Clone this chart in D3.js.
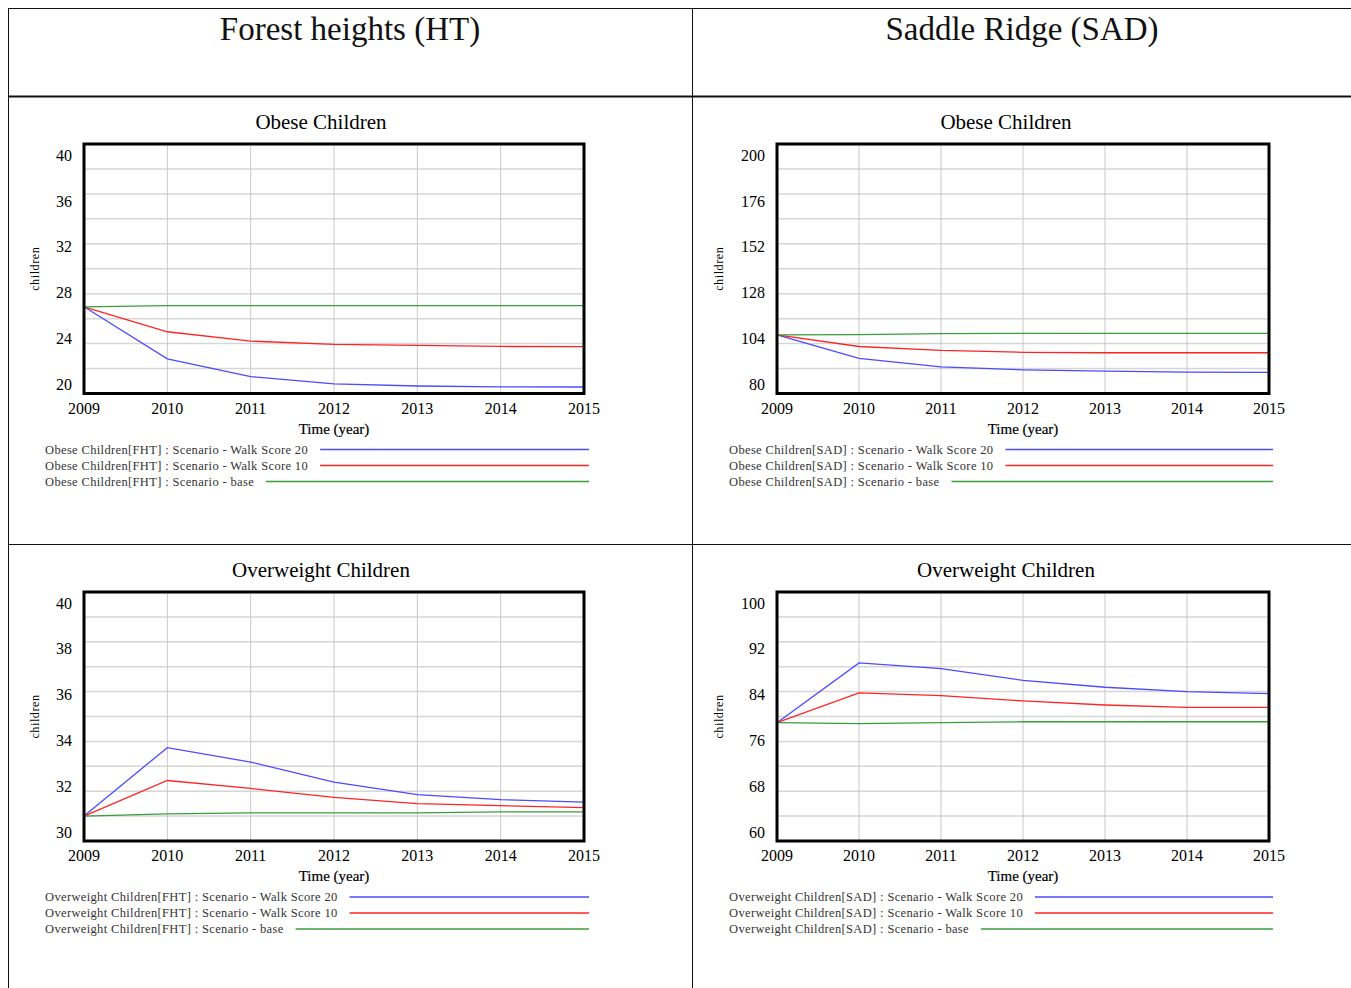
<!DOCTYPE html>
<html>
<head>
<meta charset="utf-8">
<script src="https://cdn.jsdelivr.net/npm/d3@7"></script>
<style>
  body { margin: 0; background: #fff; }
  svg { display: block; }
  svg text { font-family: "Liberation Serif", "Times New Roman", serif; }
</style>
</head>
<body>
<div id="chart"></div>
<script>
const W = 1351, H = 988

const years = [2009, 2010, 2011, 2012, 2013, 2014, 2015]
const columnTitles = ['Forest heights (HT)', 'Saddle Ridge (SAD)']
const scenarioNames = ['Scenario - Walk Score 20', 'Scenario - Walk Score 10', 'Scenario - base']
const scenarioColors = ['#4b4bff', '#ff2424', '#3a9e3a']

// obese children, Forest heights
const obeseFHT_ws20 = [26.95, 22.78, 21.36, 20.77, 20.6, 20.53, 20.52]
const obeseFHT_ws10 = [26.95, 24.95, 24.2, 23.93, 23.85, 23.77, 23.75]
const obeseFHT_base = [26.95, 27.05, 27.05, 27.05, 27.05, 27.05, 27.05]
// obese children, Saddle Ridge
const obeseSAD_ws20 = [108.2, 96.9, 92.8, 91.4, 90.75, 90.3, 90.2]
const obeseSAD_ws10 = [108.2, 102.6, 100.7, 99.8, 99.6, 99.6, 99.6]
const obeseSAD_base = [108.2, 108.3, 108.8, 108.9, 108.9, 108.9, 108.9]
// overweight children, Forest heights
const overFHT_ws20 = [31.0, 33.75, 33.17, 32.36, 31.86, 31.66, 31.56]
const overFHT_ws10 = [31.0, 32.43, 32.11, 31.75, 31.5, 31.42, 31.34]
const overFHT_base = [31.0, 31.09, 31.13, 31.13, 31.13, 31.17, 31.17]
// overweight children, Saddle Ridge
const overSAD_ws20 = [79.0, 88.6, 87.7, 85.8, 84.7, 84.0, 83.67]
const overSAD_ws10 = [79.0, 83.78, 83.35, 82.5, 81.85, 81.47, 81.47]
const overSAD_base = [79.0, 78.84, 79.0, 79.16, 79.16, 79.16, 79.16]

const obeseFHT_ticks = [40, 36, 32, 28, 24, 20]
const obeseSAD_ticks = [200, 176, 152, 128, 104, 80]
const overFHT_ticks = [40, 38, 36, 34, 32, 30]
const overSAD_ticks = [100, 92, 84, 76, 68, 60]

const panels = [
  { title: 'Obese Children', var: 'Obese Children', region: 'FHT', col: 0, row: 0,
    ticks: obeseFHT_ticks, series: [obeseFHT_ws20, obeseFHT_ws10, obeseFHT_base] },
  { title: 'Obese Children', var: 'Obese Children', region: 'SAD', col: 1, row: 0,
    ticks: obeseSAD_ticks, series: [obeseSAD_ws20, obeseSAD_ws10, obeseSAD_base] },
  { title: 'Overweight Children', var: 'Overweight Children', region: 'FHT', col: 0, row: 1,
    ticks: overFHT_ticks, series: [overFHT_ws20, overFHT_ws10, overFHT_base] },
  { title: 'Overweight Children', var: 'Overweight Children', region: 'SAD', col: 1, row: 1,
    ticks: overSAD_ticks, series: [overSAD_ws20, overSAD_ws10, overSAD_base] }
]

// frame positions
const COLS = [{ left: 84, right: 584, legendX: 45, legendEnd: 589, titleShift: -13, unitX: 35 },
              { left: 777, right: 1269, legendX: 729, legendEnd: 1273, titleShift: -17, unitX: 719 }]
const ROWS = [{ top: 144, bottom: 393.5 }, { top: 592, bottom: 841 }]

const svg = d3.select('#chart').append('svg')
  .attr('width', W).attr('height', H)

// table grid
const grid = svg.append('g').attr('stroke', '#111')
grid.append('line').attr('x1', 8).attr('x2', W).attr('y1', 8.5).attr('y2', 8.5).attr('stroke-width', 1)
grid.append('line').attr('x1', 8.5).attr('x2', 8.5).attr('y1', 8).attr('y2', H).attr('stroke-width', 1)
grid.append('line').attr('x1', 692.5).attr('x2', 692.5).attr('y1', 8).attr('y2', H).attr('stroke-width', 1)
grid.append('line').attr('x1', 8).attr('x2', W).attr('y1', 96.5).attr('y2', 96.5).attr('stroke-width', 2)
grid.append('line').attr('x1', 8).attr('x2', W).attr('y1', 544.5).attr('y2', 544.5).attr('stroke-width', 1)

svg.selectAll('.coltitle')
  .data(columnTitles)
  .enter().append('text')
    .attr('x', (d, i) => i === 0 ? 350 : 1022)
    .attr('y', 40)
    .attr('text-anchor', 'middle')
    .attr('font-size', 33)
    .attr('fill', '#111')
    .text(d => d)

panels.forEach(p => {
  const c = COLS[p.col], r = ROWS[p.row]
  const g = svg.append('g')
  const yMin = d3.min(p.ticks), yMax = d3.max(p.ticks)

  const x = d3.scaleLinear().domain([2009, 2015]).range([c.left, c.right])
  const y = d3.scaleLinear().domain([yMin, yMax]).range([r.bottom, r.top])
  // vensim spreads its labels a little inside the frame
  const yLab = d3.scaleLinear().domain([yMin, yMax]).range([r.bottom - 9, r.top + 11])

  // grid lines
  const hGrid = d3.range(1, 10).map(i => yMin + (yMax - yMin) * i / 10)
  g.append('g').selectAll('line')
    .data(hGrid)
    .enter().append('line')
      .attr('x1', c.left).attr('x2', c.right)
      .attr('y1', d => y(d)).attr('y2', d => y(d))
      .attr('stroke', '#d6d6d6').attr('stroke-width', 1.5)
  g.append('g').selectAll('line')
    .data(years.slice(1, -1))
    .enter().append('line')
      .attr('x1', d => x(d)).attr('x2', d => x(d))
      .attr('y1', r.top).attr('y2', r.bottom)
      .attr('stroke', '#c8c8c8').attr('stroke-width', 1)

  // series
  const line = d3.line()
    .x((d, i) => x(years[i]))
    .y(d => y(d))
  g.selectAll('.series')
    .data(p.series)
    .enter().append('path')
      .attr('d', line)
      .attr('fill', 'none')
      .attr('stroke', (d, i) => scenarioColors[i])
      .attr('stroke-width', 1.3)

  // frame
  g.append('rect')
    .attr('x', c.left).attr('y', r.top)
    .attr('width', c.right - c.left).attr('height', r.bottom - r.top)
    .attr('fill', 'none').attr('stroke', '#000').attr('stroke-width', 3)

  // y labels
  g.selectAll('.ylab')
    .data(p.ticks)
    .enter().append('text')
      .attr('x', c.left - 12)
      .attr('y', d => yLab(d))
      .attr('dy', '0.35em')
      .attr('text-anchor', 'end')
      .attr('font-size', 16)
      .attr('fill', '#000')
      .text(d => d)

  // x labels
  g.selectAll('.xlab')
    .data(years)
    .enter().append('text')
      .attr('x', d => x(d))
      .attr('y', r.bottom + 20)
      .attr('text-anchor', 'middle')
      .attr('font-size', 16)
      .attr('fill', '#000')
      .text(d => d)

  g.append('text')
    .attr('x', (c.left + c.right) / 2)
    .attr('y', r.bottom + 40)
    .attr('text-anchor', 'middle')
    .attr('font-size', 15)
    .attr('fill', '#000')
    .attr('stroke', '#000').attr('stroke-width', 0.2)
    .text('Time (year)')

  g.append('text')
    .attr('x', (c.left + c.right) / 2 + c.titleShift)
    .attr('y', r.top - 15)
    .attr('text-anchor', 'middle')
    .attr('font-size', 21)
    .attr('fill', '#000')
    .text(p.title)

  g.append('text')
    .attr('transform', `translate(${c.unitX + 4}, ${(r.top + r.bottom) / 2}) rotate(-90)`)
    .attr('text-anchor', 'middle')
    .attr('font-size', 12)
    .attr('letter-spacing', 0.6)
    .attr('fill', '#000')
    .text('children')

  // legend
  const leg = g.selectAll('.leg')
    .data(scenarioNames)
    .enter().append('g')
      .attr('transform', (d, i) => `translate(0, ${r.bottom + 56 + i * 16})`)
  leg.append('text')
    .attr('x', c.legendX)
    .attr('dy', '0.35em')
    .attr('font-size', 12.5)
    .attr('letter-spacing', 0.35)
    .attr('fill', '#333')
    .text(d => `${p.var}[${p.region}] : ${d}`)
  leg.append('line')
    .attr('x1', function() { return c.legendX + this.parentNode.querySelector('text').getComputedTextLength() + 12 })
    .attr('x2', c.legendEnd)
    .attr('stroke', (d, i) => scenarioColors[i])
    .attr('stroke-width', 1.3)
})
</script>
</body>
</html>
